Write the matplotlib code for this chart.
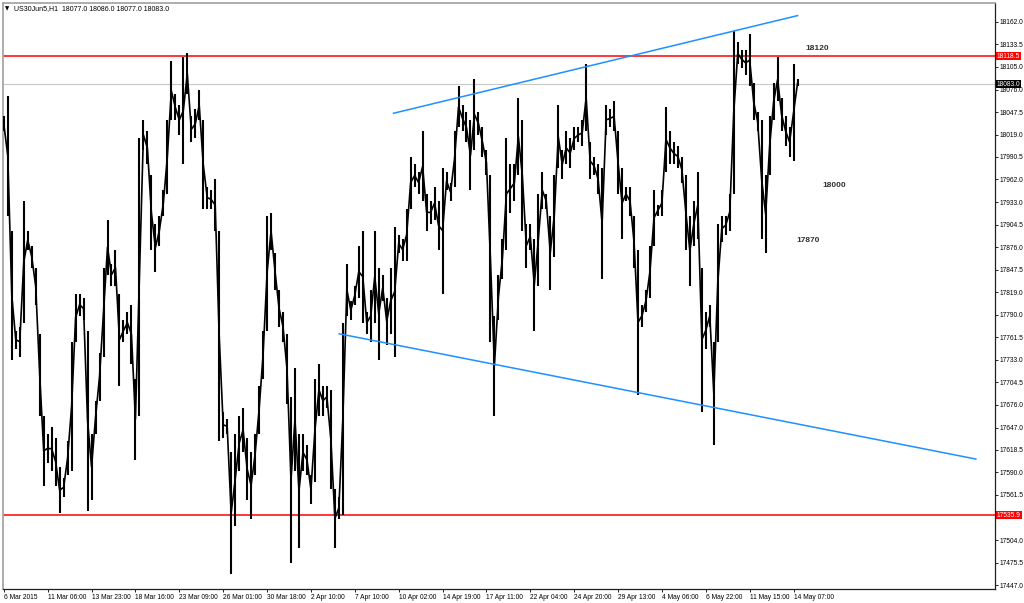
import matplotlib
matplotlib.use("Agg")
import matplotlib.pyplot as plt
import matplotlib.transforms as mtransforms

# ------------------------------------------------------------
# US30 H1, 6 Mar - 14 May 2015 (one sample ~ 6 hourly bars)
# ------------------------------------------------------------
highs = [
    18042, 18068, 17897, 17770, 17775, 17934, 17897, 17878, 17850, 17766,
    17662, 17639, 17648, 17634, 17597, 17583, 17630, 17756, 17817, 17817,
    17812, 17770, 17639, 17681, 17742, 17850, 17911, 17855, 17873, 17817,
    17784, 17794, 17803, 17709, 18014, 18037, 18023, 17967, 17906, 17916,
    17948, 18037, 18112, 18070, 18056, 18117, 18123, 18042, 18051, 18075,
    18037, 17953, 17948, 17962, 17897, 17667, 17658, 17616, 17639, 17662,
    17672, 17634, 17616, 17639, 17700, 17770, 17916, 17920, 17869, 17822,
    17794, 17766, 17686, 17723, 17639, 17639, 17625, 17587, 17709, 17728,
    17700, 17700, 17695, 17569, 17559, 17780, 17855, 17808, 17827, 17878,
    17897, 17794, 17822, 17897, 17850, 17841, 17812, 17850, 17902, 17892,
    17887, 17925, 17991, 17981, 17972, 18023, 17944, 17934, 17953, 17934,
    17977, 17972, 17958, 18023, 18080, 18056, 18047, 18037, 18089, 18047,
    18028, 18000, 17967, 17789, 17841, 17887, 18014, 17981, 17981, 18066,
    18037, 17906, 17906, 17887, 17944, 17972, 17944, 17916, 17967, 18056,
    18000, 18023, 18014, 18028, 18028, 18037, 18108, 18009, 17991, 17981,
    17977, 18056, 18051, 18061, 18023, 17977, 17953, 17953, 17916, 17873,
    17803, 17822, 17878, 17948, 17930, 17948, 18054, 18023, 18009, 18005,
    17991, 17967, 17916, 17934, 17972, 17850, 17794, 17803, 17756, 17906,
    17916, 17916, 17944, 18150, 18136, 18126, 18126, 18147, 18084, 18047,
    18037, 17967, 18042, 18084, 18117, 18065, 18042, 18028, 18108, 18089,
]
lows = [
    18023, 17916, 17733, 17747, 17737, 17780, 17873, 17850, 17803, 17662,
    17573, 17602, 17592, 17573, 17538, 17559, 17587, 17592, 17756, 17789,
    17784, 17541, 17555, 17639, 17681, 17737, 17841, 17827, 17827, 17700,
    17756, 17766, 17728, 17606, 17662, 18000, 17981, 17873, 17845, 17878,
    17916, 17944, 18037, 18037, 18019, 17981, 18070, 18009, 18014, 18037,
    17925, 17925, 17925, 17897, 17630, 17634, 17639, 17461, 17522, 17592,
    17616, 17555, 17531, 17587, 17639, 17709, 17770, 17873, 17822, 17775,
    17756, 17677, 17475, 17592, 17494, 17592, 17587, 17550, 17578, 17662,
    17662, 17672, 17569, 17494, 17531, 17536, 17789, 17784, 17803, 17812,
    17780, 17766, 17756, 17780, 17733, 17808, 17752, 17766, 17737, 17869,
    17859, 17859, 17925, 17953, 17944, 17934, 17897, 17906, 17911, 17873,
    17817, 17948, 17934, 17953, 18028, 18023, 18009, 17948, 18000, 18019,
    17991, 17967, 17756, 17662, 17784, 17836, 17873, 17920, 17934, 17967,
    17897, 17850, 17873, 17770, 17827, 17925, 17925, 17822, 17864, 17977,
    17962, 17981, 17977, 18000, 18009, 18005, 18023, 17962, 17967, 17944,
    17836, 18019, 18028, 18023, 17944, 17887, 17934, 17916, 17850, 17688,
    17775, 17794, 17812, 17878, 17916, 17916, 17972, 17981, 17981, 17977,
    17958, 17873, 17827, 17878, 17887, 17667, 17747, 17775, 17625, 17756,
    17883, 17892, 17897, 17944, 18108, 18103, 18094, 18080, 18037, 18023,
    17887, 17869, 17967, 18037, 18061, 18023, 18005, 17991, 17986, 18080,
]

time_labels = [
    "6 Mar 2015", "11 Mar 06:00", "13 Mar 23:00", "18 Mar 16:00", "23 Mar 09:00",
    "26 Mar 01:00", "30 Mar 18:00", "2 Apr 10:00", "7 Apr 10:00", "10 Apr 02:00",
    "14 Apr 19:00", "17 Apr 11:00", "22 Apr 04:00", "24 Apr 20:00", "29 Apr 13:00",
    "4 May 06:00", "6 May 22:00", "11 May 15:00", "14 May 07:00",
]
time_label_bars = [0, 11, 22, 33, 44, 55, 66, 77, 88, 99,
                   110, 121, 132, 143, 154, 165, 176, 187, 198]

price_ticks = [
    18162.0, 18133.5, 18105.0, 18076.0, 18047.5, 18019.0, 17990.5, 17962.0,
    17933.0, 17904.5, 17876.0, 17847.5, 17819.0, 17790.0, 17761.5, 17733.0,
    17704.5, 17676.0, 17647.0, 17618.5, 17590.0, 17561.5, 17504.0, 17475.5,
    17447.0,
]

resistance = 18118.5
support = 17535.9
last_price = 18083.0

# trend channel end points (bar index, price)
upper_x, upper_y = [97.7, 199.0], [18046, 18170]
lower_x, lower_y = [84.1, 243.7], [17766, 17607]

note_labels = ["18120", "18000", "17870"]
note_x = [201.0, 205.3, 198.7]
note_y = [18128, 17954, 17884]

# ------------------------------------------------------------
W, H = 1024, 603
fig = plt.figure(figsize=(W / 100, H / 100), dpi=100, facecolor="white")
ax = fig.add_axes([3 / W, 14 / H, 992 / W, 586 / H])
ax.set_facecolor("white")

bars = list(range(len(highs)))
mids = [(h + l) / 2 for h, l in zip(highs, lows)]
ax.vlines(bars, lows, highs, color="black", lw=1.5, zorder=3)
ax.plot(bars, mids, color="black", lw=1.2, zorder=3)

ax.axhline(resistance, color="#ff0000", lw=1.1, zorder=2)
ax.axhline(support, color="#ff0000", lw=1.1, zorder=2)
ax.axhline(last_price, color="#c8c8c8", lw=0.8, zorder=1)

ax.plot(upper_x, upper_y, color="#1e90ff", lw=1.1, zorder=4)
ax.plot(lower_x, lower_y, color="#1e90ff", lw=1.1, zorder=4)

for txt, nx, ny in zip(note_labels, note_x, note_y):
    ax.text(nx, ny, txt, fontsize=6, fontweight="bold", color="#333333",
            family="Liberation Sans", va="center", ha="left")

ax.set_xlim(-0.2, 248.5)
ax.set_ylim(17442, 18186)

ax.yaxis.tick_right()
ax.set_yticks(price_ticks)
ax.set_yticklabels([f"{p:.1f}" for p in price_ticks])
ax.set_xticks(time_label_bars)
ax.set_xticklabels(time_labels, ha="left")
ax.tick_params(axis="both", labelsize=4.8, length=2.5, width=0.6, color="black",
               pad=1.0, labelcolor="black")
for lab in ax.get_xticklabels() + ax.get_yticklabels():
    lab.set_family("Liberation Sans")

for side in ("right", "bottom"):
    ax.spines[side].set_color("#202020")
    ax.spines[side].set_linewidth(0.9)
for side in ("left", "top"):
    ax.spines[side].set_color("#a0a0a0")
    ax.spines[side].set_linewidth(1.2)

# price flags on the right scale
blend = mtransforms.blended_transform_factory(ax.transAxes, ax.transData)
for val, bg in ((resistance, "#ff0000"), (last_price, "black"), (support, "#ff0000")):
    ax.text(1.002, val, f"{val:.1f}", transform=blend, fontsize=4.8,
            family="Liberation Sans", color="white", va="center", ha="left",
            bbox=dict(boxstyle="square,pad=0.12", fc=bg, ec="none"), zorder=6,
            clip_on=False)

fig.text(5 / W, 1 - 9 / H, "\u25bc", fontsize=4, color="black", va="center")
fig.text(14 / W, 1 - 9 / H, "US30Jun5,H1  18077.0 18086.0 18077.0 18083.0",
         fontsize=5, color="black", va="center", family="Liberation Sans")

fig.savefig("out.png", dpi=100, facecolor="white")
